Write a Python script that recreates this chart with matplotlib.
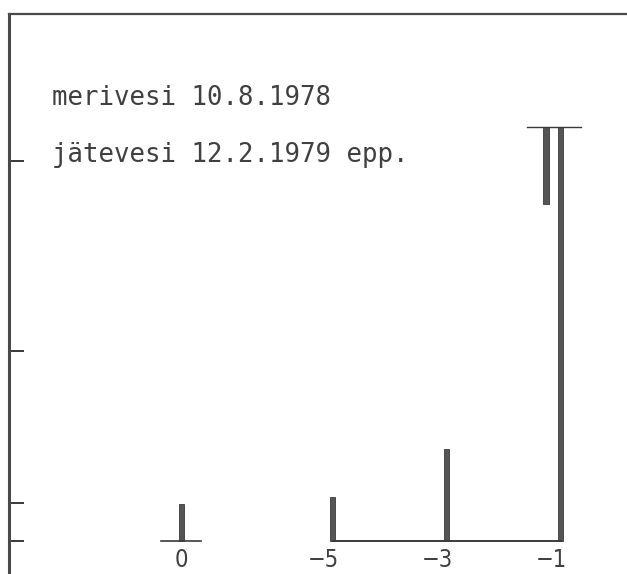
import matplotlib.pyplot as plt
import matplotlib.transforms as mtransforms

# samples on the x axis and bar heights (arbitrary units, ticks at 0/10/50/100)
labels = ["0", "\u22125", "\u22123", "\u22121"]
xpos = [-7.65, -5, -3, -1]
heights = [9.7, 11.6, 24.2, 109]

# short second bar hanging next to the -1 bar
hang_x = -1.26
hang_top = 109
hang_bottom = 88.7

yticks = [0, 10, 50, 100]
legend_lines = ["merivesi 10.8.1978", "jätevesi 12.2.1979 epp."]

ink = "#3a3a3a"
text_ink = "#404040"
bar_color = "#555555"


def main():
    fig = plt.figure(figsize=(6.27, 5.74), dpi=100)
    ax = fig.add_axes([9 / 627, 0, 1 - 9 / 627, 560 / 574])

    ax.set_xlim(-10.68, 0.16)
    ax.set_ylim(-8.7, 138.7)

    # bars
    ax.bar(xpos, heights, width=0.09, color=bar_color, edgecolor=ink,
           linewidth=0.6)
    ax.bar([hang_x], [hang_top - hang_bottom], bottom=hang_bottom, width=0.09,
           color=bar_color, edgecolor=ink, linewidth=0.6)

    # cap line over the -1 pair
    ax.plot([-1.6, -0.65], [hang_top, hang_top], color=ink, lw=1.0)

    # baselines
    ax.plot([xpos[0] - 0.37, xpos[0] + 0.33], [0, 0], color=ink, lw=1.2)
    ax.plot([xpos[1], xpos[3]], [0, 0], color=ink, lw=1.4)

    # x labels, digit under the bar and the minus sign to its left
    off = mtransforms.offset_copy(ax.transData, fig=fig, x=6, y=0,
                                  units="dots")
    for x, lab in zip(xpos, labels):
        ax.text(x, -1.8, lab, transform=off, ha="right", va="top",
                fontsize=17, color=text_ink, family="DejaVu Sans",
                fontstretch="condensed", fontweight="light")

    # legend text
    ax.text(0.07, 0.85, legend_lines[0], transform=ax.transAxes,
            fontsize=18.5, family="DejaVu Sans Mono", color=text_ink,
            va="center")
    ax.text(0.07, 0.748, legend_lines[1], transform=ax.transAxes,
            fontsize=18.5, family="DejaVu Sans Mono", color=text_ink,
            va="center")

    # frame: left and top only, ticks pointing inwards
    for side in ["right", "bottom"]:
        ax.spines[side].set_visible(False)
    ax.spines["left"].set_linewidth(2.2)
    ax.spines["left"].set_color("#4a4a4a")
    ax.spines["top"].set_linewidth(1.6)
    ax.spines["top"].set_color("#4a4a4a")

    ax.set_yticks(yticks)
    ax.set_yticklabels([])
    ax.tick_params(axis="y", direction="in", length=11, width=1.4,
                   color=ink)
    ax.set_xticks([])

    fig.savefig("out.png", dpi=100)


if __name__ == "__main__":
    main()
